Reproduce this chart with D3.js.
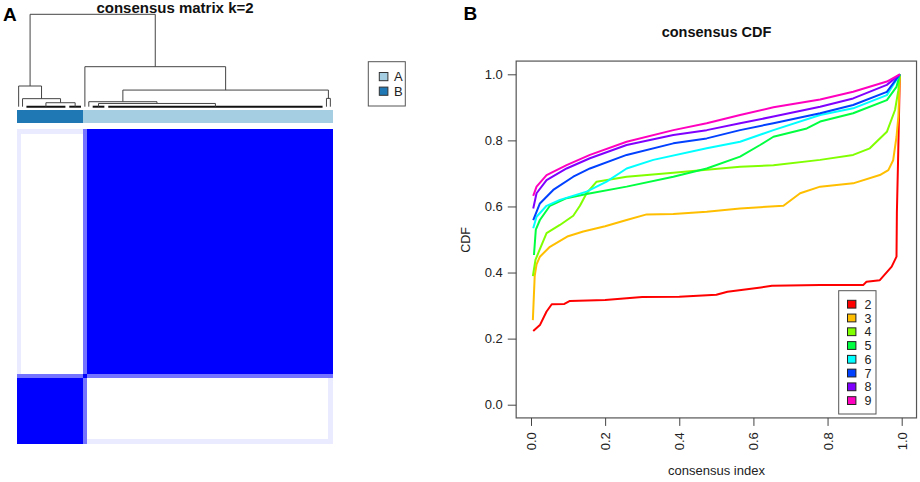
<!DOCTYPE html>
<html>
  <head>
    <meta charset="utf-8" />
    <title>Consensus clustering</title>
    <script src="https://d3js.org/d3.v7.min.js"></script>
    <style>
        body{
            margin: 0;
            background: #fff;
        }
        text{
            font-family: "Liberation Sans", Arial, sans-serif;
        }
    </style>
  </head>
  <body>
    <svg id="vis" width="920" height="482"></svg>

    <script>
        // ---- panel A data ----
        var groupNames = ["B", "A"];           // order along the heatmap
        var groupSizes = [17, 64];
        var groupColors = ["#1F78B4", "#A6CEE3"];
        var legendNames = ["A", "B"];
        var legendColors = ["#A6CEE3", "#1F78B4"];

        // sample that sits between the two clusters
        var bridgeSample = 17;
        var bridgeValue = 0.55;
        // samples with a weak link to the other cluster
        var edgeSamples = [0, 80];
        var edgeValues = [0.08, 0.08];

        // dendrogram: merge heights, leaves given as index ranges
        var dendro = {h: 1.0, kids: [
            {h: 0.224, kids: [
                {from: 0, to: 0},
                {h: 0.087, kids: [
                    {from: 1, to: 1},
                    {h: 0.043, kids: [{from: 2, to: 12}, {from: 13, to: 16}]}
                ]}
            ]},
            {h: 0.433, kids: [
                {from: 17, to: 17},
                {h: 0.18, kids: [
                    {h: 0.054, kids: [
                        {from: 18, to: 18},
                        {h: 0.035, kids: [{from: 19, to: 22}, {from: 23, to: 78}]}
                    ]},
                    {h: 0.09, kids: [{from: 79, to: 79}, {from: 80, to: 80}]}
                ]}
            ]}
        ]};

        // ---- panel B data: consensus CDF per k, [consensus index, CDF] ----
        var kValues = ["2", "3", "4", "5", "6", "7", "8", "9"];
        var kColors = ["#FF0000", "#FFBF00", "#80FF00", "#00FF40", "#00FFFF", "#0040FF", "#8000FF", "#FF00BF"];
        var cdfK2 = [[0.006,0.223],[0.024,0.241],[0.042,0.282],[0.056,0.304],[0.09,0.305],[0.105,0.314],[0.2,0.317],[0.3,0.326],[0.4,0.327],[0.5,0.333],[0.53,0.342],[0.62,0.355],[0.65,0.36],[0.78,0.362],[0.896,0.362],[0.905,0.372],[0.941,0.377],[0.973,0.418],[0.986,0.448],[0.987,0.58],[0.99,0.73],[0.995,1.0]];
        var cdfK3 = [[0.005,0.256],[0.01,0.39],[0.015,0.425],[0.024,0.448],[0.051,0.478],[0.1,0.51],[0.141,0.524],[0.2,0.54],[0.258,0.559],[0.312,0.576],[0.384,0.577],[0.474,0.584],[0.564,0.594],[0.681,0.602],[0.726,0.64],[0.78,0.66],[0.869,0.67],[0.941,0.695],[0.964,0.71],[0.977,0.74],[0.986,0.811],[0.991,0.872],[0.995,1.0]];
        var cdfK4 = [[0.005,0.389],[0.012,0.438],[0.02,0.46],[0.042,0.519],[0.078,0.544],[0.114,0.572],[0.132,0.602],[0.15,0.64],[0.177,0.675],[0.258,0.69],[0.384,0.702],[0.564,0.72],[0.654,0.725],[0.78,0.741],[0.869,0.756],[0.914,0.776],[0.96,0.826],[0.982,0.892],[0.991,0.952],[0.995,1.0]];
        var cdfK5 = [[0.008,0.453],[0.013,0.53],[0.024,0.559],[0.051,0.602],[0.096,0.625],[0.15,0.638],[0.258,0.66],[0.384,0.69],[0.474,0.715],[0.564,0.751],[0.618,0.786],[0.654,0.811],[0.744,0.836],[0.78,0.857],[0.869,0.882],[0.96,0.922],[0.986,0.962],[0.995,1.0]];
        var cdfK6 = [[0.006,0.534],[0.015,0.569],[0.042,0.602],[0.078,0.62],[0.15,0.645],[0.204,0.675],[0.258,0.715],[0.33,0.741],[0.474,0.776],[0.564,0.796],[0.654,0.831],[0.78,0.877],[0.869,0.897],[0.96,0.937],[0.995,1.0]];
        var cdfK7 = [[0.006,0.559],[0.024,0.609],[0.06,0.65],[0.114,0.69],[0.159,0.715],[0.258,0.756],[0.384,0.791],[0.474,0.806],[0.564,0.831],[0.654,0.852],[0.78,0.882],[0.869,0.907],[0.96,0.947],[0.995,1.0]];
        var cdfK8 = [[0.006,0.594],[0.015,0.64],[0.042,0.68],[0.096,0.715],[0.159,0.746],[0.258,0.786],[0.384,0.816],[0.474,0.831],[0.564,0.852],[0.654,0.872],[0.78,0.902],[0.869,0.927],[0.96,0.968],[0.995,1.0]];
        var cdfK9 = [[0.006,0.632],[0.015,0.66],[0.042,0.695],[0.096,0.725],[0.159,0.756],[0.258,0.796],[0.384,0.831],[0.474,0.852],[0.564,0.877],[0.654,0.9],[0.78,0.924],[0.869,0.947],[0.96,0.978],[0.995,1.0]];
        var cdfTicks = [0, 0.2, 0.4, 0.6, 0.8, 1.0];

        var svg = d3.select("#vis");

        // ================= panel A =================
        var nSamples = d3.sum(groupSizes);
        var sampleGroup = [];
        groupSizes.forEach(function(s, g) {
            for (var i = 0; i < s; i++) sampleGroup.push(g);
        });

        function consensus(i, j) {
            if (i === j) return 1;
            if (i === bridgeSample || j === bridgeSample) return bridgeValue;
            if (sampleGroup[i] === sampleGroup[j]) return 1;
            var a = edgeSamples.indexOf(i), b = edgeSamples.indexOf(j);
            if (a >= 0) return edgeValues[a];
            if (b >= 0) return edgeValues[b];
            return 0;
        }

        var hx = d3.scaleBand().domain(d3.range(nSamples)).range([16.7, 332.3]);
        var hy = d3.scaleBand().domain(d3.range(nSamples).reverse()).range([129.3, 443.3]);
        var heatColor = d3.scaleLinear().domain([0, 1]).range(["#ffffff", "#0000ff"]);

        var cells = [];
        for (var i = 0; i < nSamples; i++) {
            for (var j = 0; j < nSamples; j++) {
                cells.push({row: i, col: j, v: consensus(i, j)});
            }
        }

        var heat = svg.append("g").attr("id", "heat").attr("shape-rendering", "crispEdges");
        heat.selectAll("rect").data(cells.filter(function(d) { return d.v > 0; }))
            .enter().append("rect")
            .attr("x", function(d) { return hx(d.col); })
            .attr("y", function(d) { return hy(d.row); })
            .attr("width", hx.bandwidth() + 0.6)
            .attr("height", hy.bandwidth() + 0.6)
            .attr("fill", function(d) { return heatColor(d.v); });

        // annotation bar
        svg.append("g").attr("shape-rendering", "crispEdges")
            .selectAll("rect").data(d3.range(nSamples))
            .enter().append("rect")
            .attr("x", function(d) { return hx(d); })
            .attr("y", 110)
            .attr("width", hx.bandwidth() + 0.6)
            .attr("height", 12.7)
            .attr("fill", function(d) { return groupColors[sampleGroup[d]]; });

        // dendrogram
        var dy = d3.scaleLinear().domain([0, 1]).range([106.7, 14.3]);
        var leafX = function(i) { return hx(i) + hx.bandwidth() / 2; };
        var dendroG = svg.append("g").attr("fill", "none");

        function drawNode(node) {
            if (node.kids === undefined) {
                if (node.to > node.from) {
                    dendroG.append("line")
                        .attr("x1", leafX(node.from)).attr("x2", leafX(node.to))
                        .attr("y1", dy(0)).attr("y2", dy(0))
                        .attr("stroke", "#111").attr("stroke-width", 2);
                }
                return {x: (leafX(node.from) + leafX(node.to)) / 2, h: 0};
            }
            var kids = node.kids.map(drawNode);
            dendroG.append("line")
                .attr("x1", kids[0].x).attr("x2", kids[1].x)
                .attr("y1", dy(node.h)).attr("y2", dy(node.h))
                .attr("stroke", "#444");
            kids.forEach(function(k) {
                dendroG.append("line")
                    .attr("x1", k.x).attr("x2", k.x)
                    .attr("y1", dy(node.h)).attr("y2", dy(k.h))
                    .attr("stroke", "#444");
            });
            return {x: (kids[0].x + kids[1].x) / 2, h: node.h};
        }
        drawNode(dendro);

        svg.append("text").attr("x", 175).attr("y", 12.5)
            .attr("text-anchor", "middle").attr("font-size", 15).attr("font-weight", "bold")
            .attr("fill", "#111").text("consensus matrix k=2");

        // legend A/B
        var legA = svg.append("g");
        legA.append("rect").attr("x", 368.3).attr("y", 61.7).attr("width", 37).attr("height", 44.3)
            .attr("fill", "#fff").attr("stroke", "#555");
        var legAItems = legA.selectAll("g.item").data(legendNames).enter().append("g")
            .attr("transform", function(d, i) { return "translate(0," + (76.7 + i * 14.6) + ")"; });
        legAItems.append("rect").attr("x", 379.3).attr("y", -4.2).attr("width", 8.6).attr("height", 8.2)
            .attr("fill", function(d, i) { return legendColors[i]; }).attr("stroke", "#333");
        legAItems.append("text").attr("x", 394).attr("dy", "0.36em").attr("font-size", 13)
            .attr("fill", "#222").text(function(d) { return d; });

        // ================= panel B =================
        var x = d3.scaleLinear().domain([0, 1]).range([531, 901.7]);
        var y = d3.scaleLinear().domain([0, 1]).range([404.7, 74.3]);

        svg.append("rect")
            .attr("x", x(-0.04)).attr("y", y(1.04))
            .attr("width", x(1.04) - x(-0.04)).attr("height", y(-0.04) - y(1.04))
            .attr("fill", "none").attr("stroke", "#555").attr("stroke-width", 1.2);

        var yAxis = svg.append("g")
            .attr("transform", "translate(" + x(-0.04) + ",0)")
            .call(d3.axisLeft(y).tickValues(cdfTicks).tickFormat(d3.format(".1f")).tickSize(8.4).tickPadding(5));
        yAxis.select(".domain").remove();
        yAxis.selectAll("line").attr("stroke", "#444");
        yAxis.selectAll("text").attr("font-size", 13).attr("fill", "#222")
            .style("font-family", "'Liberation Sans', Arial, sans-serif");

        var xAxis = svg.append("g")
            .attr("transform", "translate(0," + y(-0.04) + ")")
            .call(d3.axisBottom(x).tickValues(cdfTicks).tickFormat(d3.format(".1f")).tickSize(8));
        xAxis.select(".domain").remove();
        xAxis.selectAll("line").attr("stroke", "#444");
        xAxis.selectAll("text")
            .attr("transform", "rotate(-90)")
            .attr("text-anchor", "end")
            .attr("x", -14.3).attr("y", 0).attr("dy", "0.35em")
            .attr("font-size", 13).attr("fill", "#222")
            .style("font-family", "'Liberation Sans', Arial, sans-serif");

        var series = [cdfK2, cdfK3, cdfK4, cdfK5, cdfK6, cdfK7, cdfK8, cdfK9];
        var line = d3.line()
            .x(function(d) { return x(d[0]); })
            .y(function(d) { return y(d[1]); });

        svg.append("g").selectAll("path").data(series).enter().append("path")
            .attr("d", line)
            .attr("fill", "none")
            .attr("stroke", function(d, i) { return kColors[i]; })
            .attr("stroke-width", 2)
            .attr("stroke-linejoin", "round");

        svg.append("text").attr("x", 716.5).attr("y", 37)
            .attr("text-anchor", "middle").attr("font-size", 14.5).attr("font-weight", "bold")
            .attr("fill", "#111").text("consensus CDF");
        svg.append("text").attr("x", 716.5).attr("y", 475)
            .attr("text-anchor", "middle").attr("font-size", 13).attr("fill", "#222")
            .text("consensus index");
        svg.append("text").attr("transform", "translate(469.5,240) rotate(-90)")
            .attr("text-anchor", "middle").attr("font-size", 12.5).attr("fill", "#222")
            .text("CDF");

        // legend k
        var legB = svg.append("g");
        legB.append("rect").attr("x", 838.7).attr("y", 290.7).attr("width", 37.3).attr("height", 123.3)
            .attr("fill", "#fff").attr("stroke", "#555");
        var legBItems = legB.selectAll("g.item").data(kValues).enter().append("g")
            .attr("transform", function(d, i) { return "translate(0," + (304.3 + i * 13.77) + ")"; });
        legBItems.append("rect").attr("x", 847.5).attr("y", -4).attr("width", 8.4).attr("height", 7.8)
            .attr("fill", function(d, i) { return kColors[i]; }).attr("stroke", "#222");
        legBItems.append("text").attr("x", 864.5).attr("dy", "0.36em").attr("font-size", 12.5)
            .attr("fill", "#222").text(function(d) { return d; });

        // panel letters
        svg.append("text").attr("x", 3).attr("y", 21).attr("font-size", 19).attr("font-weight", "bold")
            .attr("fill", "#000").text("A");
        svg.append("text").attr("x", 463.5).attr("y", 19.5).attr("font-size", 19).attr("font-weight", "bold")
            .attr("fill", "#000").text("B");
    </script>
  </body>
</html>
